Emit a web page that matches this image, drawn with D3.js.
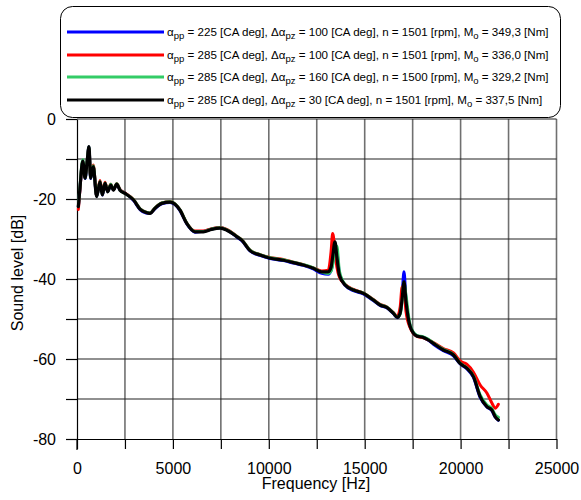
<!DOCTYPE html>
<html>
<head>
<meta charset="utf-8">
<script src="https://cdn.jsdelivr.net/npm/d3@7"></script>
<style>
  html, body { margin: 0; padding: 0; background: #fff; }
  svg { display: block; font-family: "Liberation Sans", Arial, sans-serif; }
</style>
</head>
<body>
<svg id="chart" width="581" height="500"></svg>
<script>
// ---------------- DATA ----------------
const freq = [70, 150, 300, 420, 520, 625, 710, 850, 1025, 1200,
  1320, 1460, 1600, 1760, 1900, 2070, 2240, 2500, 2940, 3300,
  3600, 3800, 4070, 4420, 4850, 5110, 5370, 5720, 6150, 6590,
  7020, 7460, 7810, 8330, 8590, 9020, 9540, 10070, 10760, 11280,
  11800, 12320, 12760, 13100, 13250, 13330, 13450, 13550, 13680, 13980,
  14410, 14930, 15450, 15800, 16150, 16500, 16700, 16850, 16950, 17050,
  17150, 17370, 17710, 18060, 18320, 18580, 19100, 19630, 19970, 20320,
  20670, 21020, 21370, 21630, 21800, 21970];

const blueVals = [-22.0, -17.6, -10.7, -14.9, -11.1, -7.0, -14.9, -12.0, -19.3, -15.8,
  -19.0, -16.2, -18.1, -16.6, -17.7, -16.4, -17.7, -18.5, -20.3, -22.7,
  -23.5, -23.6, -22.4, -21.2, -20.9, -21.4, -22.9, -26.2, -28.3, -28.1,
  -27.5, -27.2, -27.7, -29.5, -30.4, -33.0, -34.1, -34.9, -35.4, -36.0,
  -36.6, -37.5, -38.6, -38.8, -37.8, -36.0, -32.5, -33.2, -38.5, -41.6,
  -42.9, -43.7, -45.4, -46.6, -47.2, -48.7, -49.7, -48.5, -44.0, -38.2,
  -45.0, -51.8, -54.2, -54.6, -55.3, -56.3, -57.9, -59.2, -61.2, -62.4,
  -64.6, -69.6, -72.0, -72.9, -74.5, -75.3];

const redVals = [-22.6, -17.8, -10.6, -14.6, -11.0, -7.2, -14.6, -11.5, -19.2, -15.4,
  -18.8, -15.8, -18.0, -16.3, -17.7, -16.2, -17.6, -18.5, -20.1, -22.5,
  -23.3, -23.5, -22.2, -21.0, -20.6, -21.2, -22.7, -26.0, -28.0, -28.0,
  -27.4, -27.1, -27.6, -29.3, -30.2, -32.8, -33.9, -34.6, -35.1, -35.8,
  -36.4, -37.2, -38.0, -37.8, -33.0, -28.6, -33.0, -37.0, -39.5, -41.4,
  -42.6, -43.5, -45.1, -46.3, -47.0, -48.4, -49.3, -47.0, -42.0, -42.5,
  -48.0, -52.2, -54.3, -54.7, -55.2, -55.9, -57.4, -58.5, -60.5, -61.3,
  -63.3, -66.5, -68.5, -71.0, -72.3, -71.3];

const greenVals = [-21.8, -17.2, -10.2, -14.7, -10.8, -7.0, -14.7, -11.7, -19.3, -15.6,
  -18.9, -16.0, -18.1, -16.3, -17.7, -16.2, -17.7, -18.6, -20.1, -22.5,
  -23.3, -23.5, -22.2, -21.0, -20.7, -21.2, -22.7, -26.0, -28.1, -28.1,
  -27.5, -27.2, -27.7, -29.3, -30.2, -32.8, -33.9, -34.7, -35.2, -35.8,
  -36.4, -37.2, -38.3, -38.6, -38.0, -36.5, -32.5, -31.8, -38.0, -41.4,
  -42.7, -43.5, -45.2, -46.4, -47.0, -48.5, -49.5, -48.8, -45.5, -40.8,
  -44.0, -51.5, -54.1, -54.5, -55.1, -56.0, -57.6, -58.9, -61.0, -62.2,
  -64.2, -69.0, -71.5, -72.4, -73.9, -74.6];

const blackVals = [-21.9, -17.5, -10.5, -14.8, -11.0, -6.9, -14.8, -11.9, -19.4, -15.7,
  -19.0, -16.1, -18.2, -16.5, -17.8, -16.3, -17.8, -18.6, -20.2, -22.6,
  -23.4, -23.6, -22.3, -21.1, -20.8, -21.3, -22.8, -26.1, -28.2, -28.2,
  -27.6, -27.3, -27.8, -29.4, -30.3, -32.9, -34.0, -34.8, -35.3, -35.9,
  -36.5, -37.3, -38.2, -38.2, -37.0, -34.5, -30.7, -34.5, -39.0, -41.5,
  -42.75, -43.6, -45.25, -46.5, -47.1, -48.6, -49.6, -48.5, -45.0, -40.7,
  -45.5, -51.9, -54.25, -54.6, -55.25, -56.1, -57.75, -59.0, -61.1, -62.3,
  -64.4, -69.4, -71.9, -72.75, -74.4, -75.25];

const seriesColors = ["#0000ff", "#ff0000", "#33cc66", "#000000"];
const alphaPP = ["225", "285", "285", "285"];
const deltaAlpha = ["100", "100", "160", "30"];
const rpmVals = ["1501", "1501", "1500", "1501"];
const torqueVals = ["349,3", "336,0", "329,2", "337,5"];

const xTicks = [0, 2500, 5000, 7500, 10000, 12500, 15000, 17500, 20000, 22500, 25000];
const yTicks = [0, -10, -20, -30, -40, -50, -60, -70, -80];
const xTitle = "Frequency [Hz]";
const yTitle = "Sound level [dB]";

// ---------------- CHART ----------------
const svg = d3.select("#chart");
const mLeft = 77, mRight = 556.5, mTop = 119, mBottom = 439;

const x = d3.scaleLinear().domain([0, 25000]).range([mLeft, mRight]);
const y = d3.scaleLinear().domain([-80, 0]).range([mBottom, mTop]);

// grid
const grid = svg.append("g");
grid.selectAll("line.v").data(xTicks.filter(d => d > 0)).join("line")
  .attr("x1", d => x(d)).attr("x2", d => x(d))
  .attr("y1", y(0)).attr("y2", y(-80))
  .attr("stroke", "#707070").attr("stroke-width", 1.6);
grid.selectAll("line.h").data(yTicks.filter(d => d > -80)).join("line")
  .attr("x1", x(0)).attr("x2", x(25000))
  .attr("y1", d => y(d)).attr("y2", d => y(d))
  .attr("stroke", "#222").attr("stroke-width", 1.2);

// axes
const xAxis = d3.axisBottom(x).tickValues(xTicks)
  .tickFormat(d => d % 5000 === 0 ? String(d) : "")
  .tickSizeInner(10).tickSizeOuter(0).tickPadding(14);
const gx = svg.append("g").attr("transform", `translate(0,${mBottom})`).call(xAxis);
gx.select(".domain").attr("stroke", "#000").attr("stroke-width", 1.2);
gx.selectAll(".tick line").attr("stroke", "#000").attr("stroke-width", 1.2);
gx.selectAll(".tick text").attr("font-size", 16).attr("fill", "#000")
  .attr("font-family", "Liberation Sans, Arial, sans-serif");

const yAxis = d3.axisLeft(y).tickValues(yTicks)
  .tickFormat(d => d % 20 === 0 ? String(d) : "")
  .tickSizeInner(11).tickSizeOuter(0).tickPadding(10);
const gy = svg.append("g").attr("transform", `translate(${mLeft},0)`).call(yAxis);
gy.select(".domain").attr("stroke", "#000").attr("stroke-width", 1.2);
gy.selectAll(".tick line").attr("stroke", "#000").attr("stroke-width", 1.2);
gy.selectAll(".tick text").attr("font-size", 16).attr("fill", "#000")
  .attr("font-family", "Liberation Sans, Arial, sans-serif");
svg.append("line").attr("x1", x(0)).attr("x2", x(0)).attr("y1", y(-80)).attr("y2", y(-80) + 11)
  .attr("stroke", "#000").attr("stroke-width", 1.2);

// titles
svg.append("text").attr("x", 316).attr("y", 489).attr("text-anchor", "middle")
  .attr("font-size", 16).text(xTitle);
svg.append("text").attr("transform", "translate(23,273) rotate(-90)").attr("text-anchor", "middle")
  .attr("font-size", 16).text(yTitle);

// series
const allVals = [blueVals, redVals, greenVals, blackVals];
const line = d3.line().x(d => x(d[0])).y(d => y(d[1])).curve(d3.curveMonotoneX);
const plot = svg.append("g");
allVals.forEach((vals, i) => {
  plot.append("path")
    .datum(freq.map((f, k) => [f, vals[k]]))
    .attr("d", line)
    .attr("fill", "none")
    .attr("stroke", seriesColors[i])
    .attr("stroke-width", i === 3 ? 3.2 : 3)
    .attr("stroke-linejoin", "round")
    .attr("stroke-linecap", "round");
});

// legend
const lg = svg.append("g");
lg.append("rect").attr("x", 60.5).attr("y", 6.5).attr("width", 500).attr("height", 111)
  .attr("rx", 12).attr("ry", 12).attr("fill", "#fff").attr("stroke", "#000").attr("stroke-width", 1);
const rowY = [32, 55, 77, 100];
seriesColors.forEach((c, i) => {
  lg.append("line").attr("x1", 67).attr("x2", 164).attr("y1", rowY[i]).attr("y2", rowY[i])
    .attr("stroke", c).attr("stroke-width", 3);
  const t = lg.append("text").attr("x", 167).attr("y", rowY[i] + 4).attr("font-size", 11.6).attr("fill", "#000");
  t.append("tspan").text("α");
  t.append("tspan").attr("dy", 3).attr("font-size", 9.5).text("pp");
  t.append("tspan").attr("dy", -3).text(` = ${alphaPP[i]} [CA deg], Δα`);
  t.append("tspan").attr("dy", 3).attr("font-size", 9.5).text("pz");
  t.append("tspan").attr("dy", -3).text(` = ${deltaAlpha[i]} [CA deg], n = ${rpmVals[i]} [rpm], M`);
  t.append("tspan").attr("dy", 3).attr("font-size", 9.5).text("o");
  t.append("tspan").attr("dy", -3).text(` = ${torqueVals[i]} [Nm]`);
});
</script>
</body>
</html>
